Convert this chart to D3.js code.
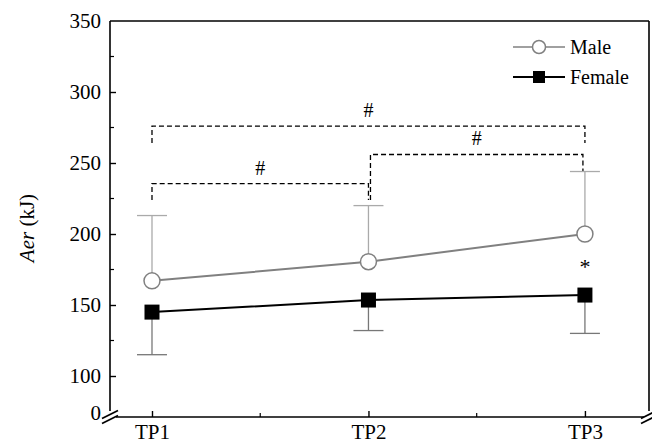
<!DOCTYPE html>
<html>
<head>
<meta charset="utf-8">
<script src="https://cdn.jsdelivr.net/npm/d3@7"></script>
<style>
  body { margin: 0; background: #fff; }
</style>
</head>
<body>
<div id="chart"></div>
<script>

// data
const timePoints = ['TP1', 'TP2', 'TP3']
const maleMean = [167, 180.5, 200]
const maleUpper = [213, 220, 244]
const femaleMean = [145, 153.5, 157]
const femaleLower = [115, 132, 130]
const yTicks = [0, 100, 150, 200, 250, 300, 350]
const yMinorTicks = [125, 175, 225, 275, 325]

// significance brackets: from tp, to tp, bar height, leg ends
const brackets = [
    { from: 1, to: 2, top: 235.5, left: 224, right: 224 },
    { from: 2, to: 3, top: 256, left: 224, right: 244 },
    { from: 1, to: 3, top: 276, left: 264, right: 264 }
]


var width = 652
var height = 445

// plot box (top/left are window props, so other names)
var pLeft = 110, pRight = 649, pTop = 21, pBottom = 417

var serif = "'Liberation Serif', 'Times New Roman', Times, serif"

var svg = d3.select('#chart').append('svg')
    .attr('width', width)
    .attr('height', height)
    .attr('font-family', serif)

var x = d3.scaleLinear()
    .domain([0.806, 3.296])
    .range([pLeft, pRight])

// broken axis: 0 sits just below 100
var y = d3.scaleLinear()
    .domain([0, 100, 350])
    .range([pBottom, 376, pTop])

const male = timePoints.map((t, i) => ({ tp: i + 1, mean: maleMean[i], err: maleUpper[i] }))
const female = timePoints.map((t, i) => ({ tp: i + 1, mean: femaleMean[i], err: femaleLower[i] }))

// frame
var frame = svg.append('g').attr('stroke', '#000').attr('stroke-width', 1.6).attr('fill', 'none')
frame.append('line').attr('x1', pLeft).attr('x2', pRight).attr('y1', pTop).attr('y2', pTop)
frame.append('line').attr('x1', pLeft).attr('x2', pLeft).attr('y1', pTop).attr('y2', pBottom - 6)
frame.append('line').attr('x1', pRight).attr('x2', pRight).attr('y1', pTop).attr('y2', pBottom - 6)
frame.append('line').attr('x1', pLeft + 6).attr('x2', pRight - 5).attr('y1', pBottom).attr('y2', pBottom)

// break marks
function breakMark(cx) {
    [-2.5, 2.5].forEach(o => {
        frame.append('line')
            .attr('x1', cx - 8).attr('y1', pBottom + 4 + o)
            .attr('x2', cx + 8).attr('y2', pBottom - 4 + o)
    })
}
breakMark(pLeft)
breakMark(pRight)

// y axis
var yAxis = svg.append('g')
    .attr('transform', `translate(${pLeft},0)`)
    .call(d3.axisLeft(y).tickValues(yTicks).tickSizeInner(-6).tickSizeOuter(0).tickPadding(9))
    .attr('font-family', serif)
    .attr('font-size', 21)
yAxis.select('.domain').remove()
yAxis.selectAll('line').attr('stroke-width', 1.4)
yAxis.selectAll('.tick').filter(d => d === 0 || d === 350).select('line').remove()
yAxis.selectAll('text').attr('fill', '#000')
yAxis.selectAll('.tick').filter(d => d === 0).select('text').attr('dy', '0.1em')

yAxis.selectAll('.minor')
    .data(yMinorTicks)
    .enter()
    .append('line')
    .attr('class', 'minor')
    .attr('x1', 0).attr('x2', 4)
    .attr('y1', d => y(d)).attr('y2', d => y(d))
    .attr('stroke', '#000').attr('stroke-width', 1.2)

// x axis
var xAxis = svg.append('g')
    .attr('transform', `translate(0,${pBottom})`)
    .call(d3.axisBottom(x).tickValues([1, 2, 3]).tickFormat(d => timePoints[d - 1]).tickSizeInner(-6).tickSizeOuter(0).tickPadding(7))
    .attr('font-family', serif)
    .attr('font-size', 21)
xAxis.select('.domain').remove()
xAxis.selectAll('line').attr('stroke-width', 1.4)
xAxis.selectAll('text').attr('fill', '#000')

xAxis.selectAll('.minor')
    .data([1.5, 2.5])
    .enter()
    .append('line')
    .attr('class', 'minor')
    .attr('x1', d => x(d)).attr('x2', d => x(d))
    .attr('y1', 0).attr('y2', -4)
    .attr('stroke', '#000').attr('stroke-width', 1.2)

// axis title
svg.append('text')
    .attr('transform', `translate(34,${(pTop + pBottom) / 2 + 9}) rotate(-90)`)
    .attr('text-anchor', 'middle')
    .attr('font-size', 21)
    .call(t => {
        t.append('tspan').attr('font-style', 'italic').text('Aer')
        t.append('tspan').text(' (kJ)')
    })

// significance brackets
var br = svg.append('g')
    .attr('fill', 'none')
    .attr('stroke', '#000')
    .attr('stroke-width', 1.3)
    .attr('stroke-dasharray', '5,3')

brackets.forEach(b => {
    const x1 = x(b.from) + (b.from === 2 ? 2 : 0)
    const x2 = x(b.to) - (b.to === 3 && b.top < 270 ? 2 : 0)
    br.append('path')
        .attr('d', `M${x1},${y(b.left)}V${y(b.top)}H${x2}V${y(b.right)}`)
    svg.append('text')
        .attr('x', (x1 + x2) / 2)
        .attr('y', y(b.top) - 9)
        .attr('text-anchor', 'middle')
        .attr('font-size', 20)
        .text('#')
})

// error bars
function errorBars(data, color) {
    var g = svg.append('g').attr('stroke', color).attr('stroke-width', 1.3)
    g.selectAll('.stem')
        .data(data)
        .enter()
        .append('line')
        .attr('x1', d => x(d.tp)).attr('x2', d => x(d.tp))
        .attr('y1', d => y(d.mean)).attr('y2', d => y(d.err))
    g.selectAll('.cap')
        .data(data)
        .enter()
        .append('line')
        .attr('x1', d => x(d.tp) - 15).attr('x2', d => x(d.tp) + 15)
        .attr('y1', d => y(d.err)).attr('y2', d => y(d.err))
}
errorBars(male, '#aaaaaa')
errorBars(female, '#777777')

var line = d3.line()
    .x(d => x(d.tp))
    .y(d => y(d.mean))

svg.append('path')
    .datum(male)
    .attr('d', line)
    .attr('fill', 'none')
    .attr('stroke', '#808080')
    .attr('stroke-width', 2)

svg.append('path')
    .datum(female)
    .attr('d', line)
    .attr('fill', 'none')
    .attr('stroke', '#000')
    .attr('stroke-width', 2)

svg.selectAll('.maleDot')
    .data(male)
    .enter()
    .append('circle')
    .attr('cx', d => x(d.tp))
    .attr('cy', d => y(d.mean))
    .attr('r', 8)
    .attr('fill', '#fff')
    .attr('stroke', '#808080')
    .attr('stroke-width', 1.5)

svg.selectAll('.femaleDot')
    .data(female)
    .enter()
    .append('rect')
    .attr('x', d => x(d.tp) - 7.5)
    .attr('y', d => y(d.mean) - 7.5)
    .attr('width', 15)
    .attr('height', 15)
    .attr('fill', '#000')

// asterisk at TP3
svg.append('text')
    .attr('x', x(3))
    .attr('y', y(180) + 12)
    .attr('text-anchor', 'middle')
    .attr('font-size', 22)
    .text('*')

// legend
var legend = svg.append('g')
legend.append('line').attr('x1', 513).attr('x2', 565).attr('y1', 47).attr('y2', 47)
    .attr('stroke', '#808080').attr('stroke-width', 1.6)
legend.append('circle').attr('cx', 539).attr('cy', 47).attr('r', 6.5)
    .attr('fill', '#fff').attr('stroke', '#808080').attr('stroke-width', 1.5)
legend.append('text').attr('x', 570).attr('y', 54).attr('font-size', 20).text('Male')

legend.append('line').attr('x1', 513).attr('x2', 565).attr('y1', 77).attr('y2', 77)
    .attr('stroke', '#000').attr('stroke-width', 2)
legend.append('rect').attr('x', 533).attr('y', 71).attr('width', 12).attr('height', 12).attr('fill', '#000')
legend.append('text').attr('x', 570).attr('y', 84).attr('font-size', 20).text('Female')

</script>
</body>
</html>
